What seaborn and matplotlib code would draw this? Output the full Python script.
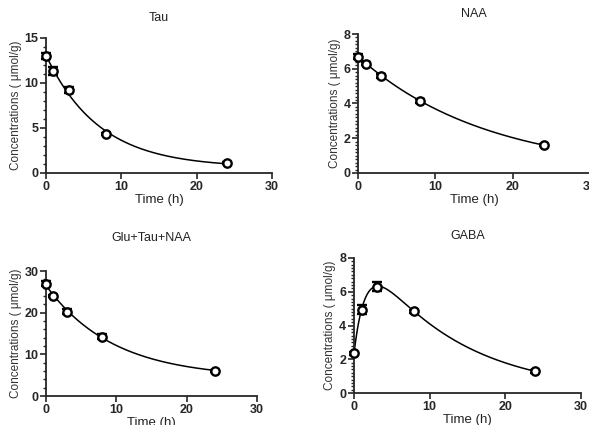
import numpy as np
import pandas as pd
import matplotlib
matplotlib.use("Agg")
import matplotlib.pyplot as plt
import seaborn as sns
from matplotlib.ticker import MultipleLocator

# ======================================================
# Data
# ======================================================

time_h = [0, 1, 3, 8, 24]

tau_mean = [13.0, 11.3, 9.2, 4.3, 1.1]
tau_err = [0.35, 0.45, 0.35, 0.1, 0.1]

naa_mean = [6.7, 6.3, 5.6, 4.15, 1.6]
naa_err = [0.12, 0.06, 0.12, 0.12, 0.05]

glu_mean = [27.0, 24.0, 20.3, 14.3, 6.1]
glu_err = [0.6, 0.3, 0.7, 0.7, 0.2]

gaba_mean = [2.35, 4.95, 6.3, 4.85, 1.3]
gaba_err = [0.1, 0.25, 0.25, 0.1, 0.08]


# ======================================================
# Curve fits (least squares on the data above)
# ======================================================

def fit_decay(t, y):
    t = np.asarray(t, float)
    y = np.asarray(y, float)
    best = None
    for k in np.linspace(0.005, 1.5, 1500):
        X = np.column_stack([np.ones_like(t), np.exp(-k * t)])
        coef = np.linalg.lstsq(X, y, rcond=None)[0]
        sse = ((X @ coef - y) ** 2).sum()
        if best is None or sse < best[0]:
            best = (sse, k, coef)
    _, k, (c, a) = best
    return lambda tt: c + a * np.exp(-k * tt)


def fit_rise_decay(t, y):
    t = np.asarray(t, float)
    y = np.asarray(y, float)
    best = None
    for a in np.linspace(0.01, 0.3, 120):
        for b in np.linspace(0.3, 3.0, 120):
            X = np.column_stack([np.exp(-a * t), np.exp(-b * t)])
            coef = np.linalg.lstsq(X, y, rcond=None)[0]
            sse = ((X @ coef - y) ** 2).sum()
            if best is None or sse < best[0]:
                best = (sse, a, b, coef)
    _, a, b, (A, B) = best
    return lambda tt: A * np.exp(-a * tt) + B * np.exp(-b * tt)


# ======================================================
# Plot
# ======================================================

sns.set_style("ticks")
plt.rcParams["font.family"] = ["Liberation Sans", "DejaVu Sans"]

fig = plt.figure(figsize=(5.89, 4.25), dpi=100)

panels = [
    # title, mean, err, fit, rect, ymax, major, minor, title pad
    ("Tau", tau_mean, tau_err, fit_decay, [0.078, 0.593, 0.384, 0.318], 15, 5, 1, 12),
    ("NAA", naa_mean, naa_err, fit_decay, [0.608, 0.593, 0.394, 0.327], 8, 2, 0.2, 12),
    ("Glu+Tau+NAA", glu_mean, glu_err, fit_decay, [0.078, 0.068, 0.358, 0.294], 30, 10, 2, 22),
    ("GABA", gaba_mean, gaba_err, fit_rise_decay, [0.601, 0.075, 0.385, 0.318], 8, 2, 0.2, 14),
]

for title, mean, err, fitter, rect, ymax, major, minor, tpad in panels:
    ax = fig.add_axes(rect)
    f = fitter(time_h, mean)
    tt = np.linspace(0, 24, 300)
    curve = pd.DataFrame({"t": tt, "y": f(tt)})
    sns.lineplot(data=curve, x="t", y="y", ax=ax, color="black", lw=1.1)

    ax.errorbar(time_h, mean, yerr=err, fmt="o", mfc="white", mec="black",
                ms=6, mew=1.7, ecolor="black", elinewidth=1.3, capsize=3.5,
                capthick=1.3, clip_on=False, zorder=5)

    ax.set_xlim(0, 30)
    ax.set_ylim(0, ymax)
    ax.xaxis.set_major_locator(MultipleLocator(10))
    ax.yaxis.set_major_locator(MultipleLocator(major))
    ax.yaxis.set_minor_locator(MultipleLocator(minor))
    ax.tick_params(axis="both", which="major", length=4, width=1.2,
                   labelsize=9, pad=1.5)
    ax.tick_params(axis="y", which="minor", length=2.5, width=1)
    for lab in ax.get_xticklabels() + ax.get_yticklabels():
        lab.set_fontweight("bold")

    sns.despine(ax=ax)
    for s in ("left", "bottom"):
        ax.spines[s].set_linewidth(1.3)

    ax.set_title(title, fontsize=9, pad=tpad, color="#222222")
    ax.set_xlabel("Time (h)", fontsize=9.5, labelpad=1, color="#222222")
    ax.set_ylabel("Concentrations ( \u03bcmol/g)", fontsize=8.5, labelpad=2,
                  color="#333333")

fig.savefig("out.png", dpi=100)
